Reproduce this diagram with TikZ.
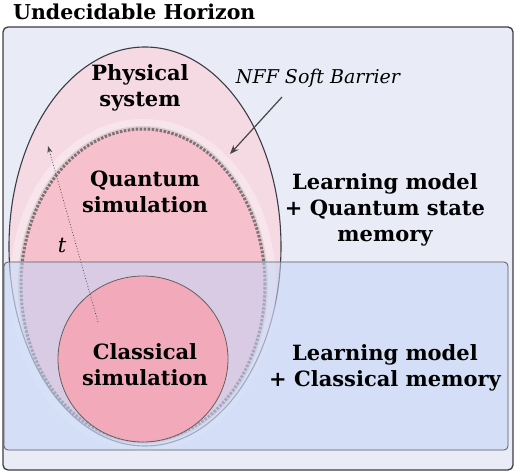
\documentclass[tikz,border=0pt]{standalone}
\usepackage{fontspec}
\setmainfont{DejaVu Serif}
\usetikzlibrary{shapes.geometric,arrows.meta}
\definecolor{outerfill}{HTML}{E9ECF7}
\definecolor{lowerfill}{HTML}{C3D5F8}
\definecolor{physfill}{HTML}{F7D9E2}
\definecolor{quantfill}{HTML}{F6C0CC}
\definecolor{classfill}{HTML}{F4A9B8}
\definecolor{edgedark}{HTML}{3C3C44}
\tikzset{
  lbl/.style={font=\fontsize{21}{26}\selectfont\bfseries, align=center, inner sep=0pt},
  annot/.style={font=\fontsize{19}{22}\selectfont\itshape, inner sep=0pt},
  region/.style={ellipse, inner sep=0pt},
}
\begin{document}
\begin{tikzpicture}[x=1pt,y=-1pt]
\useasboundingbox (0,0) rectangle (520,473);
% outer box
\node[draw=edgedark, line width=1.3pt, fill=outerfill, rounded corners=5pt,
      minimum width=510pt, minimum height=443pt, inner sep=0pt] (outer) at (258,248.5) {};
\node[font=\fontsize{20.5}{24}\selectfont\bfseries, anchor=west, inner sep=0pt] (title) at (13,12) {Undecidable Horizon};
% physical system ellipse
\node[region, draw=edgedark, line width=1.1pt, fill=physfill, fill opacity=0.9,
      minimum width=272pt, minimum height=399pt] (phys) at (145,246.5) {};
% quantum simulation region with soft barrier
\node[region, draw=white, line width=12pt, opacity=0.3,
      minimum width=254pt, minimum height=320pt] (qhalo) at (143,285) {};
\node[region, draw=gray!60!black, line width=6pt, opacity=0.15,
      minimum width=244pt, minimum height=312pt] (qblur) at (143,285) {};
\node[region, fill=quantfill, draw=gray!45!black, line width=3pt, dash pattern=on 2.5pt off 1.5pt,
      draw opacity=0.6, minimum width=244pt, minimum height=312pt] (quant) at (143,285) {};
% lower box (classical memory)
\node[draw=gray!70!black, line width=0.8pt, fill=lowerfill, fill opacity=0.55, rounded corners=4pt,
      minimum width=504pt, minimum height=188pt, inner sep=0pt] (lower) at (256,356) {};
% classical simulation circle
\node[region, draw=gray!75!black, line width=0.8pt, fill=classfill, fill opacity=0.95,
      minimum width=170pt, minimum height=166pt] (class) at (143,359) {};
% labels
\node[lbl] (physlbl) at (140,88) {Physical\\system};
\node[lbl] (quantlbl) at (145,192) {Quantum\\simulation};
\node[lbl] (classlbl) at (145,365) {Classical\\simulation};
\node[lbl] (lmq) at (385,210) {Learning model\\+ Quantum state\\memory};
\node[lbl] (lmc) at (385,368) {Learning model\\+ Classical memory};
\node[annot] (nff) at (318,78) {NFF Soft Barrier};
\node[annot, font=\fontsize{21}{22}\selectfont\itshape] (tlbl) at (62,246) {t};
% arrows
\coordinate (nffstart) at (282,97);
\coordinate (nffend) at (230,154);
\draw[-{Stealth[length=9pt,width=7pt]}, draw=gray!55!black, line width=1.2pt] (nffstart) -- (nffend);
\coordinate (tstart) at (98,322);
\coordinate (tend) at (48,146);
\draw[-{Stealth[length=7pt,width=5pt]}, draw=gray!60!black, line width=0.8pt, dotted] (tstart) -- (tend);
\end{tikzpicture}
\end{document}
